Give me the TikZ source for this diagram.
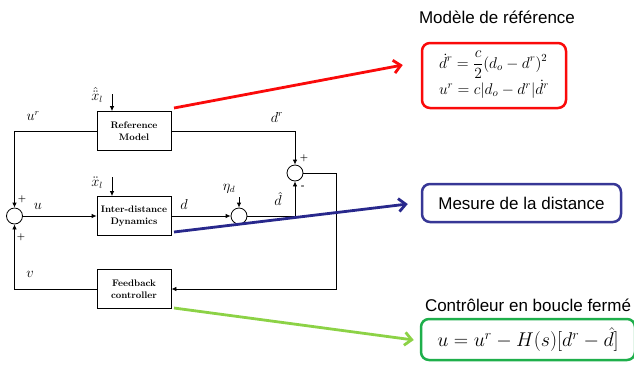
\documentclass[tikz,border=0pt]{standalone}
\usepackage{amsmath}
\usepackage{graphicx}
\usepackage{fontspec}
\newfontfamily\arial{Liberation Sans}
\usetikzlibrary{arrows.meta,calc}

\definecolor{refred}{RGB}{250,10,10}
\definecolor{measblue}{RGB}{55,55,150}
\definecolor{measline}{RGB}{40,40,140}
\definecolor{ctrlgreen}{RGB}{30,175,75}
\definecolor{ctrlline}{RGB}{140,210,70}

\tikzset{
  block/.style={draw, line width=0.8pt, minimum width=74pt, minimum height=39pt,
    inner sep=1pt, align=center, font=\fontsize{9.5}{11.5}\selectfont\bfseries},
  sumnode/.style={draw, circle, line width=0.8pt, minimum size=16pt, inner sep=0pt},
  sig/.style={line width=0.8pt, -{Latex[length=5pt,width=4.5pt]}},
  lbl/.style={inner sep=0pt, font=\fontsize{13.5}{15}\selectfont},
  sgn/.style={inner sep=0pt, font=\fontsize{9}{10}\selectfont\bfseries},
  callout/.style={rounded corners=8pt, line width=2.5pt, fill=white},
  pointer/.style={line width=2.8pt, -{Straight Barb[length=7pt,width=13pt]}},
  title/.style={inner sep=0pt, font=\arial\fontsize{17}{20}\selectfont},
}

\begin{document}
\begin{tikzpicture}[x=1pt, y=-1pt]
  \useasboundingbox (0,0) rectangle (634,365);

  % blocks
  \node[block] (rm) at (134,131) {Reference\\Model};
  \node[block] (id) at (134,216) {Inter-distance\\Dynamics};
  \node[block] (fc) at (134,289) {Feedback\\controller};

  % summing junctions
  \node[sumnode] (s1) at (14.5,216) {};
  \node[sumnode] (s2) at (295,173) {};
  \node[sumnode] (nz) at (239,216) {};

  % external inputs
  \coordinate (xr) at (112,94);
  \coordinate (xi) at (112,177);
  \coordinate (en) at (239,197);
  \draw[sig] (xr) -- (xr |- rm.north);
  \draw[sig] (xi) -- (xi |- id.north);
  \draw[sig] (en) -- (nz.north);

  % signal paths
  \draw[sig] (rm.west) -| (s1.north);
  \draw[sig] (rm.east) -| (s2.north);
  \draw[sig] (s1.east) -- (id.west);
  \draw[sig] (id.east) -- (nz.west);
  \draw[sig] (nz.east) -| (s2.south);
  \coordinate (fbk) at (336,289);
  \draw[sig] (s2.east) -| (fbk) -- (fc.east);
  \draw[sig] (fc.west) -| (s1.south);

  % signal labels
  \node[lbl] at (97,95) {$\hat{\ddot{x}}_l$};
  \node[lbl] at (97,183) {$\ddot{x}_l$};
  \node[lbl] at (33,116) {$u^r$};
  \node[lbl] at (277,117) {$d^r$};
  \node[lbl] at (38,206) {$u$};
  \node[lbl] at (184,204) {$d$};
  \node[lbl] at (278,199) {$\hat{d}$};
  \node[lbl] at (229,189) {$\eta_d$};
  \node[lbl] at (30,274) {$v$};

  % signs
  \node[sgn] at (22,199) {+};
  \node[sgn] at (21,237) {+};
  \node[sgn] at (304,158) {+};
  \node[sgn] at (303,187) {-};

  % callouts
  \node[title] (t1) at (497,17) {Modèle de référence};
  \node[callout, draw=refred, minimum width=144pt, minimum height=65pt, inner sep=2pt]
    (cr) at (494,75.5)
    {\fontsize{14.4}{17}\selectfont\scalebox{1.08}{$\begin{aligned}&\dot{d}^r = \frac{c}{2}(d_o-d^r)^2\\[-3pt]
      &u^r = c|d_o-d^r|\dot{d}^r\end{aligned}$}};

  \node[callout, draw=measblue, minimum width=199pt, minimum height=38pt]
    (cb) at (521.5,203) {\arial\fontsize{17}{20}\selectfont Mesure de la distance};

  \node[title] (t3) at (528,305) {Contrôleur en boucle fermé};
  \node[callout, draw=ctrlgreen, minimum width=214pt, minimum height=41pt]
    (cg) at (528,339.5)
    {\fontsize{20.74}{23}\selectfont\scalebox{0.96}{$u = u^r - H(s)[d^r - \hat{d}]$}};

  % pointers from blocks to callouts
  \coordinate (pr0) at (174,108);
  \coordinate (pb0) at (174,232);
  \coordinate (pg0) at (174,308);
  \draw[pointer, refred] (pr0) -- ($(cr.west)+(-18,-10.5)$);
  \draw[pointer, measline] (pb0) -- ($(cb.west)+(-13,1)$);
  \draw[pointer, ctrlline] (pg0) -- ($(cg.west)+(-6,0.5)$);
\end{tikzpicture}
\end{document}
